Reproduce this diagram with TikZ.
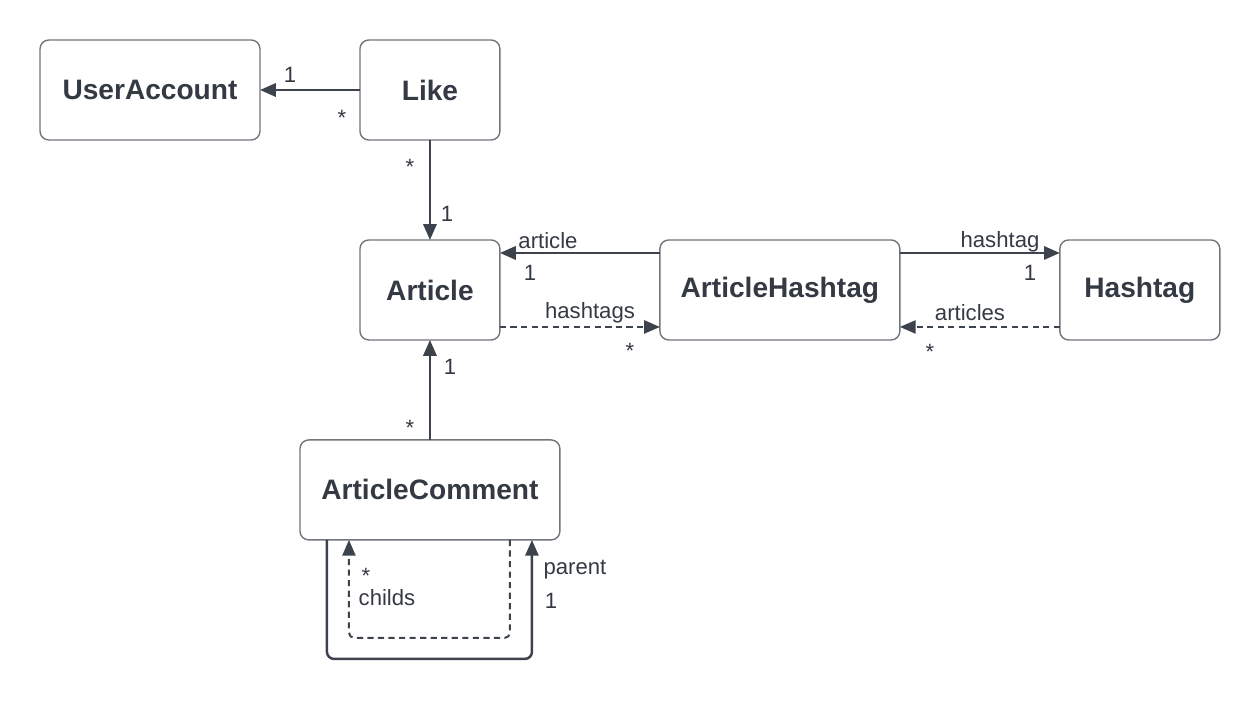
\documentclass[tikz,border=0pt]{standalone}
\usepackage{fontspec}
\setmainfont{Liberation Sans}
\usepackage{xcolor}
\usetikzlibrary{arrows.meta, positioning}
\definecolor{linegray}{HTML}{3D434C}
\definecolor{boxgray}{HTML}{71767C}
\definecolor{textgray}{HTML}{343A44}

\begin{document}
\begin{tikzpicture}[
  x=0.02cm, y=-0.02cm,
  node distance=2cm,
  entity/.style={rectangle, rounded corners=5pt, draw=boxgray, line width=0.8pt, outer sep=0pt, fill=white, minimum width=#1, minimum height=2cm, font=\fontsize{16}{19}\selectfont\bfseries, text=textgray},
  assoc/.style={-{Triangle[length=9pt, width=7.5pt]}, line width=1.4pt, color=linegray},
  navlink/.style={assoc, line width=1.1pt, dash pattern=on 3.5pt off 2.5pt},
  mult/.style={font=\fontsize{12.6}{15}\selectfont, text=textgray, inner sep=0pt}
]
  \fill[white] (0,0) rectangle (1260,700);
  \useasboundingbox (0,0) rectangle (1260,700);

  % Entities
  \node[entity=4.4cm] (useraccount) at (150,90) {UserAccount};
  \node[entity=2.8cm, right=2cm of useraccount] (like) {Like};
  \node[entity=2.8cm, below=of like] (article) {Article};
  \node[entity=4.8cm, right=3.2cm of article] (articlehashtag) {ArticleHashtag};
  \node[entity=3.2cm, right=3.2cm of articlehashtag] (hashtag) {Hashtag};
  \node[entity=5.2cm, below=of article] (articlecomment) {ArticleComment};

  % Associations
  \draw[assoc] (like) -- (useraccount);
  \draw[assoc] (like) -- (article);
  \draw[assoc] ([yshift=-0.26cm]articlehashtag.north west) -- ([yshift=-0.26cm]article.north east);
  \draw[navlink] ([yshift=0.26cm]article.south east) -- ([yshift=0.26cm]articlehashtag.south west);
  \draw[assoc] ([yshift=-0.26cm]articlehashtag.north east) -- ([yshift=-0.26cm]hashtag.north west);
  \draw[navlink] ([yshift=0.26cm]hashtag.south west) -- ([yshift=0.26cm]articlehashtag.south east);
  \draw[assoc] (articlecomment) -- (article);

  % Self references
  \draw[assoc, rounded corners=4pt] ([xshift=0.54cm]articlecomment.south west) -- ++(0,119) -| ([xshift=-0.56cm]articlecomment.south east);
  \draw[navlink, rounded corners=3pt] ([xshift=-1cm]articlecomment.south east) -- ++(0,98) -| ([xshift=0.98cm]articlecomment.south west);

  % Multiplicities and roles
  \node[mult] at (290,75) {1};
  \node[mult] at (342,118) {*};
  \node[mult] at (410,167) {*};
  \node[mult] at (447,214) {1};
  \node[mult] at (548,241) {article};
  \node[mult] at (530,273) {1};
  \node[mult] at (590,313) {hashtags};
  \node[mult] at (630,351) {*};
  \node[mult] at (1000,242) {hashtag};
  \node[mult] at (1030,273) {1};
  \node[mult] at (970,313) {articles};
  \node[mult] at (930,352) {*};
  \node[mult] at (450,367) {1};
  \node[mult] at (410,428) {*};
  \node[mult] at (366,576) {*};
  \node[mult] at (387,598) {childs};
  \node[mult] at (575,570) {parent};
  \node[mult] at (551,601) {1};
\end{tikzpicture}
\end{document}
